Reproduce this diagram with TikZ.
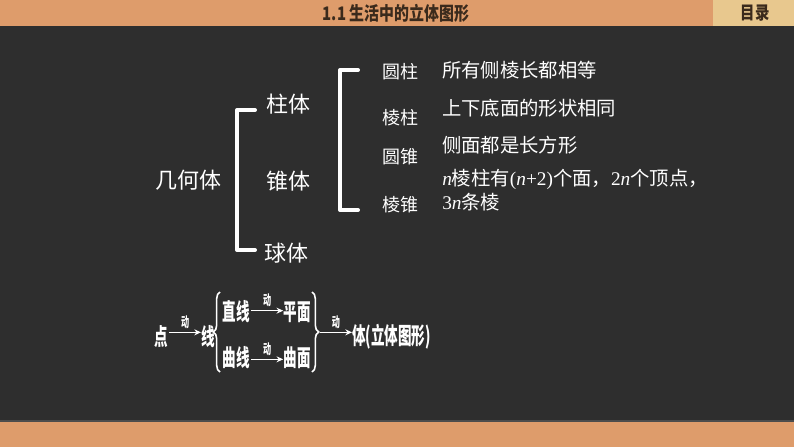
\documentclass[tikz,border=0pt]{standalone}
\usepackage{fontspec}
\usepackage{graphicx}
\usetikzlibrary{arrows.meta,decorations.pathreplacing}
\setmainfont{Liberation Serif}
\newfontfamily\cjk{Noto Sans CJK SC}
\newfontfamily\lat{Liberation Serif}
\newcommand\vn{{\lat\itshape n}}
\newcommand\lt[1]{{\lat #1}}
\newcommand\cond[1]{\scalebox{0.58}[1]{#1}}
\newcommand\tcond[1]{\scalebox{0.8}[1]{#1}}
\definecolor{board}{HTML}{2E2E2E}
\definecolor{barorange}{HTML}{DE9C6B}
\definecolor{menubox}{HTML}{E8C88E}
\definecolor{bartext}{HTML}{3A2A1C}
\begin{document}
\begin{tikzpicture}[x=0.75pt,y=-0.75pt,
  lbl/.style={text=white,font=\cjk\fontsize{16.5}{18}\selectfont,inner sep=0pt},
  sub/.style={text=white,font=\cjk\fontsize{13.5}{15}\selectfont,inner sep=0pt},
  desc/.style={text=white,font=\cjk\fontsize{14.5}{18}\selectfont,inner sep=0pt,anchor=west,align=left},
  flow/.style={text=white,font=\cjk\bfseries\fontsize{17.5}{19}\selectfont,inner sep=0pt},
  dong/.style={text=white,font=\cjk\bfseries\fontsize{10.5}{11}\selectfont,inner sep=0pt,above=2.5pt},
  bracket/.style={draw=white,line width=3pt,line join=round,line cap=round},
  fbrace/.style={draw=white,line width=1.2pt,decorate,decoration={brace,amplitude=5pt}},
  farrow/.style={draw=white,line width=1pt,-{Stealth[length=5pt,width=4.5pt]}}]
% background
\path[use as bounding box] (0,0) rectangle (794,447);
\fill[board] (0,0) rectangle (794,447);
\fill[barorange] (0,0) rectangle (794,26);
\fill[menubox] (713,0) rectangle (794,26);
\fill[barorange] (0,421) rectangle (794,447);
\draw[black!70,line width=0.8pt] (0,421) -- (794,421);
\node[text=bartext,font=\cjk\bfseries\fontsize{14}{15}\selectfont,inner sep=0pt] (title) at (396,13) {\tcond{1.1\ 生活中的立体图形}};
\node[text=bartext,font=\cjk\bfseries\fontsize{13.5}{15}\selectfont,inner sep=0pt] (menu) at (755,13) {\tcond{目录}};
% main classification
\node[lbl] (jht) at (188,180) {几何体};
\node[lbl] (zhu) at (288,104) {柱体};
\node[lbl] (zhui) at (288,181) {锥体};
\node[lbl] (qiu) at (286,253) {球体};
\coordinate (b1t) at (255,110);
\coordinate (b1b) at (255,250);
\draw[bracket] (b1t) -- (237,110) -- (237,250) -- (b1b);
\coordinate (b2t) at (358,70);
\coordinate (b2b) at (358,210);
\draw[bracket] (b2t) -- (340,70) -- (340,210) -- (b2b);
\node[sub] (yz) at (400,72) {圆柱};
\node[sub] (lz) at (400,118) {棱柱};
\node[sub] (yzh) at (400,157) {圆锥};
\node[sub] (lzh) at (400,205) {棱锥};
% descriptions
\node[desc] (d1) at (442,70) {所有侧棱长都相等};
\node[desc] (d2) at (442,108) {上下底面的形状相同};
\node[desc] (d3) at (442,145) {侧面都是长方形};
\node[desc] (d4) at (442,190) {\vn 棱柱有\lt{(}\vn\lt{+2)}个面，\lt{2}\vn 个顶点，\\\lt{3}\vn 条棱};
% flow diagram
\node[flow] (dian) at (161,337) {\cond{点}};
\node[flow] (xian) at (208,337) {\cond{线}};
\node[flow] (zx) at (236,312) {\cond{直线}};
\node[flow] (pm) at (297,312) {\cond{平面}};
\node[flow] (qx) at (236,358) {\cond{曲线}};
\node[flow] (qm) at (297,358) {\cond{曲面}};
\node[flow,anchor=west] (ti) at (352,337) {\cond{体(立体图形)}};
\coordinate (lbt) at (220,292);
\coordinate (lbb) at (220,372);
\coordinate (rbt) at (312,292);
\coordinate (rbb) at (312,372);
\draw[fbrace] (lbb) -- (lbt);
\draw[fbrace] (rbt) -- (rbb);
\draw[farrow] ([xshift=1pt,yshift=3.5pt]dian.east) -- node[dong]{\cond{动}} ([yshift=3.5pt]xian.west);
\draw[farrow] ([xshift=1pt,yshift=1pt]zx.east) -- node[dong]{\cond{动}} ([yshift=1pt]pm.west);
\draw[farrow] ([xshift=1pt,yshift=-1pt]qx.east) -- node[dong]{\cond{动}} ([yshift=-1pt]qm.west);
\draw[farrow] ([xshift=6pt,yshift=3.5pt]rbt |- dian.east) -- node[dong]{\cond{动}} ([yshift=3.5pt]ti.west);
\end{tikzpicture}
\end{document}
